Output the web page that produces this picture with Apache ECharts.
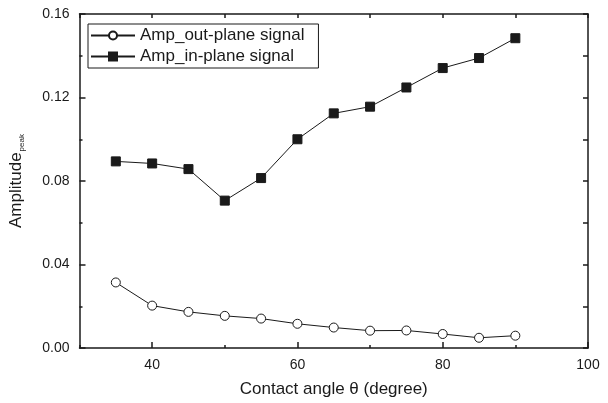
<!DOCTYPE html>
<html>
<head>
<meta charset="utf-8">
<script src="https://cdn.jsdelivr.net/npm/echarts@6/dist/echarts.min.js"></script>
<style>html,body{margin:0;padding:0;background:#fff}#c{width:608px;height:403px}</style>
</head>
<body>
<div id="c"></div>
<script>
var angles = [35, 40, 45, 50, 55, 60, 65, 70, 75, 80, 85, 90];
var outPlane = [0.0314, 0.0203, 0.0173, 0.0154, 0.0141, 0.0116, 0.0098, 0.0083, 0.0084, 0.0067, 0.0049, 0.0059];
var inPlane = [0.0894, 0.0884, 0.0857, 0.0706, 0.0814, 0.1000, 0.1124, 0.1156, 0.1248, 0.1341, 0.1389, 0.1484];
var xMajor = [40, 60, 80, 100];
var xMinor = [30, 50, 70, 90];
var seriesNames = ['Amp_out-plane signal', 'Amp_in-plane signal'];

var FONT = '"Liberation Sans", Arial, sans-serif';
var INK = '#1a1a1a';
var chart = echarts.init(document.getElementById('c'));

function pairs(ys) { return angles.map(function (a, i) { return [a, ys[i]]; }); }

var axisLineStyle = { show: true, lineStyle: { color: INK, width: 1.5 } };

chart.setOption({
  animation: false,
  backgroundColor: '#fff',
  grid: { left: 79, right: 20, top: 14, bottom: 53, containLabel: false },
  legend: {
    orient: 'vertical',
    left: 88, top: 24,
    padding: [3, 14, 3, 2],
    itemGap: 4,
    itemWidth: 44, itemHeight: 10,
    borderColor: INK, borderWidth: 1, borderRadius: 0,
    backgroundColor: '#fff',
    textStyle: { fontFamily: FONT, fontSize: 17, color: INK },
    data: seriesNames
  },
  xAxis: [
    {
      type: 'value', position: 'bottom', min: 30, max: 100,
      axisLine: axisLineStyle,
      splitLine: { show: false },
      axisTick: { show: true, inside: true, length: 6, lineStyle: { color: INK, width: 1.5 }, customValues: xMajor },
      axisLabel: { show: true, customValues: xMajor, margin: 10, fontFamily: FONT, fontSize: 14, color: INK },
      name: 'Contact angle \u03b8 (degree)', nameLocation: 'middle', nameGap: 33,
      nameTextStyle: { fontFamily: FONT, fontSize: 17, color: INK }
    },
    {
      type: 'value', position: 'bottom', min: 30, max: 100,
      axisLine: { show: false }, splitLine: { show: false },
      axisTick: { show: true, inside: true, length: 3, lineStyle: { color: INK, width: 1.5 }, customValues: xMinor },
      axisLabel: { show: false }
    },
    {
      type: 'value', position: 'top', min: 30, max: 100, interval: 10,
      axisLine: axisLineStyle, splitLine: { show: false },
      axisTick: { show: true, inside: true, length: 4, lineStyle: { color: INK, width: 1.5 } },
      axisLabel: { show: false }
    }
  ],
  yAxis: [
    {
      type: 'value', position: 'left', min: 0, max: 0.16, interval: 0.04,
      axisLine: axisLineStyle, splitLine: { show: false },
      axisTick: { show: true, inside: true, length: 6, lineStyle: { color: INK, width: 1.5 } },
      minorTick: { show: true, splitNumber: 2, length: 3, lineStyle: { color: INK, width: 1.5 } },
      minorSplitLine: { show: false },
      axisLabel: { margin: 10, fontFamily: FONT, fontSize: 14, color: INK, formatter: function (v) { return v.toFixed(2); } },
      name: '{a|Amplitude}{b|peak}', nameLocation: 'middle', nameGap: 54, nameRotate: 90,
      nameTextStyle: {
        rich: {
          a: { fontFamily: FONT, fontSize: 17, color: INK },
          b: { fontFamily: FONT, fontSize: 8, color: INK, verticalAlign: 'bottom', padding: [10, 0, 0, 1] }
        }
      }
    },
    {
      type: 'value', position: 'right', min: 0, max: 0.16, interval: 0.02,
      axisLine: axisLineStyle, splitLine: { show: false },
      axisTick: { show: true, inside: true, length: 5, lineStyle: { color: INK, width: 1.5 } },
      axisLabel: { show: false }
    }
  ],
  series: [
    {
      name: seriesNames[0], type: 'line', xAxisIndex: 0, yAxisIndex: 0,
      data: pairs(outPlane),
      symbol: 'circle', symbolSize: 9, showAllSymbol: true,
      lineStyle: { color: INK, width: 1 },
      itemStyle: { color: '#fff', borderColor: INK, borderWidth: 1 },
      z: 3
    },
    {
      name: seriesNames[1], type: 'line', xAxisIndex: 0, yAxisIndex: 0,
      data: pairs(inPlane),
      symbol: 'rect', symbolSize: 9, showAllSymbol: true,
      lineStyle: { color: INK, width: 1 },
      itemStyle: { color: INK, borderColor: INK, borderWidth: 1 },
      z: 3
    }
  ]
});
</script>
</body>
</html>
